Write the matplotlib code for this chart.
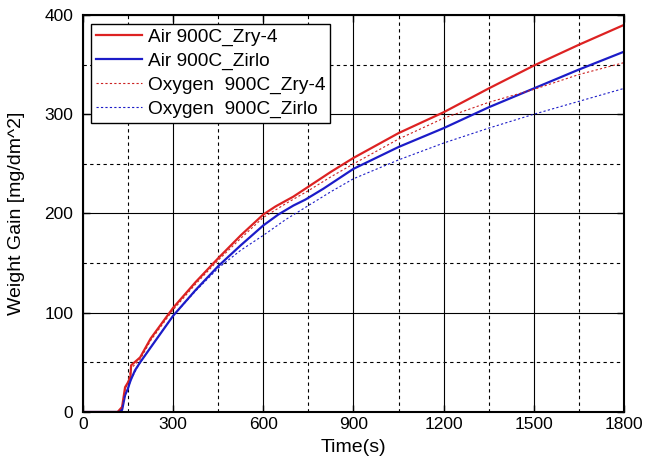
import matplotlib.pyplot as plt
from matplotlib.ticker import MultipleLocator

plt.rcParams['font.family'] = ['Liberation Sans', 'DejaVu Sans']

# data
t_air_zry = [0, 100, 115, 130, 140, 150, 158, 160, 190, 225, 300, 375, 450, 525, 600, 640, 700, 750, 825, 900, 1050, 1200, 1350, 1500, 1650, 1800]
air_zry = [0, 0, 0, 5, 25, 30, 36, 47, 55, 74, 105, 131, 155, 178, 199, 207, 217, 227, 242, 256, 281, 302, 326, 349, 370, 390]

t_air_zirlo = [0, 100, 120, 130, 140, 150, 155, 160, 173, 190, 225, 300, 375, 450, 525, 600, 650, 700, 740, 800, 900, 1050, 1200, 1350, 1500, 1650, 1800]
air_zirlo = [0, 0, 0, 2, 17, 24, 29, 33, 42, 50, 65, 97, 123, 147, 168, 188, 199, 208, 214, 225, 245, 267, 286, 307, 326, 345, 363]

t_ox = [0, 100, 120, 130, 140, 150, 160, 190, 225, 300, 375, 450, 525, 600, 675, 750, 825, 900, 1050, 1200, 1350, 1500, 1650, 1800]
ox_zry = [0, 0, 0, 4, 22, 30, 44, 53, 72, 103, 129, 153, 175, 196, 210, 223, 237, 250, 275, 296, 312, 325, 340, 352]
ox_zirlo = [0, 0, 0, 2, 17, 24, 33, 50, 65, 97, 122, 145, 163, 178, 194, 208, 222, 235, 254, 271, 286, 300, 313, 326]

fig = plt.figure(figsize=(6.45, 4.74), dpi=100)
ax = fig.add_axes([0.1287, 0.1308, 0.8387, 0.8376])

ax.plot(t_air_zry, air_zry, color='#dd2222', linewidth=1.6, label='Air 900C_Zry-4')
ax.plot(t_air_zirlo, air_zirlo, color='#1c1cc8', linewidth=1.6, label='Air 900C_Zirlo')
ax.plot(t_ox, ox_zry, color='#cc2222', linewidth=0.8, linestyle=(0, (2, 2)), label='Oxygen  900C_Zry-4')
ax.plot(t_ox, ox_zirlo, color='#1c1cc8', linewidth=0.8, linestyle=(0, (2, 2)), label='Oxygen  900C_Zirlo')

ax.set_xlim(0, 1800)
ax.set_ylim(0, 400)
ax.xaxis.set_major_locator(MultipleLocator(300))
ax.xaxis.set_minor_locator(MultipleLocator(150))
ax.yaxis.set_major_locator(MultipleLocator(100))
ax.yaxis.set_minor_locator(MultipleLocator(50))
ax.grid(which='major', color='black', linewidth=0.8, linestyle='-')
ax.grid(which='minor', color='black', linewidth=0.8, linestyle=(0, (3, 3)))
ax.set_axisbelow(True)
ax.tick_params(which='major', direction='in', top=True, right=True, length=5, width=1, labelsize=12.5)
ax.tick_params(axis='y', which='major', pad=7)
ax.tick_params(which='minor', length=0)
for s in ax.spines.values():
    s.set_linewidth(1.5)

ax.set_xlabel('Time(s)', fontsize=14, labelpad=5)
ax.set_ylabel('Weight Gain [mg/dm^2]', fontsize=14, labelpad=14)

leg = ax.legend(loc='upper left', bbox_to_anchor=(0.015, 0.978), fontsize=13.8, handlelength=2.4,
                handletextpad=0.3, borderpad=0.25, labelspacing=0.33, borderaxespad=0,
                fancybox=False, framealpha=1, edgecolor='black')
leg.get_frame().set_linewidth(1)

fig.savefig('out.png', dpi=100)
